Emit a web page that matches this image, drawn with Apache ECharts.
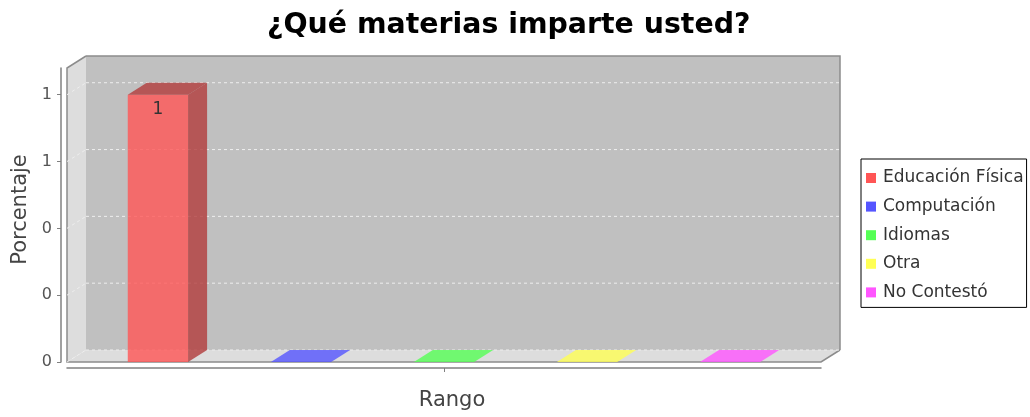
<!DOCTYPE html>
<html>
<head>
<meta charset="utf-8">
<script src="https://cdn.jsdelivr.net/npm/echarts@6/dist/echarts.min.js"></script>
<style>
  html, body { margin: 0; padding: 0; background: #ffffff; }
  #chart { width: 1030px; height: 417px; }
</style>
</head>
<body>
<div id="chart"></div>
<script>
// ---- data ----
const titleText = '¿Qué materias imparte usted?';
const categories = [''];
const subjects = ['Educación Física', 'Computación', 'Idiomas', 'Otra', 'No Contestó'];
const values = [1, 0, 0, 0, 0];
const colors = ['#FF5555', '#5555FF', '#55FF55', '#FFFF55', '#FF55FF'];
const tickValues = [0, 0.25, 0.5, 0.75, 1];
const tickLabels = ['0', '0', '0', '1', '1'];
const yMax = 1.1;
const xName = 'Rango';
const yName = 'Porcentaje';

// ---- style constants ----
const DX = 19, DY = 12;           // 3D depth offset
const ALPHA = 0.8;
const FONT = '"DejaVu Sans", sans-serif';

function rgba(hex, a, f) {
  f = f || 1;
  const n = parseInt(hex.slice(1), 16);
  const r = Math.floor(((n >> 16) & 255) * f);
  const g = Math.floor(((n >> 8) & 255) * f);
  const b = Math.floor((n & 255) * f);
  return 'rgba(' + r + ',' + g + ',' + b + ',' + a + ')';
}

function renderWalls(params, api) {
  const c0 = api.coord([0, 0]);
  const bw = api.size([1, 0])[0];
  const L = c0[0] - bw / 2, R = c0[0] + bw / 2, B = c0[1];
  const T = api.coord([0, yMax])[1];
  const edge = '#8c8c8c';
  const children = [
    { type: 'rect', shape: { x: L + DX, y: T - DY, width: R - L, height: B - T },
      style: { fill: '#C0C0C0', stroke: null } },
    { type: 'polyline', shape: { points: [[L + DX, T - DY], [R + DX, T - DY], [R + DX, B - DY]] },
      style: { fill: null, stroke: edge, lineWidth: 1.5 } },
    { type: 'polygon', shape: { points: [[L, B], [L, T], [L + DX, T - DY], [L + DX, B - DY]] },
      style: { fill: '#DDDDDD', stroke: null } },
    { type: 'polygon', shape: { points: [[L, B], [L + DX, B - DY], [R + DX, B - DY], [R, B]] },
      style: { fill: '#DDDDDD', stroke: null } },
    { type: 'polyline', shape: { points: [[L + DX, T - DY], [L, T], [L, B], [R, B], [R + DX, B - DY]] },
      style: { fill: null, stroke: edge, lineWidth: 1.5 } }
  ];
  tickValues.forEach(function (v) {
    const y = api.coord([0, v])[1];
    children.push({ type: 'line', shape: { x1: L + DX, y1: y - DY, x2: R + DX, y2: y - DY },
      style: { stroke: '#EEEEEE', lineWidth: 1, lineDash: [3, 3] } });
    children.push({ type: 'line', shape: { x1: L, y1: y, x2: L + DX, y2: y - DY },
      style: { stroke: '#EEEEEE', lineWidth: 1, lineDash: [3, 3] } });
  });
  return { type: 'group', children: children };
}

function renderBar(params, api) {
  const k = subjects.indexOf(params.seriesName);
  const v = api.value(1);
  const base = api.coord([0, 0]);
  const top = api.coord([0, v]);
  const bw = api.size([1, 0])[0];
  const w = bw * 0.08;
  const step = bw * 0.1897;
  const x0 = base[0] + (k - 2) * step - w / 2;
  const B = base[1], yt = top[1];
  const col = colors[k];
  const dark = rgba(col, ALPHA, 0.7);
  const children = [];
  if (B - yt > 0) {
    children.push({ type: 'rect', shape: { x: x0, y: yt, width: w, height: B - yt },
      style: { fill: rgba(col, ALPHA) } });
    children.push({ type: 'polygon',
      shape: { points: [[x0 + w, yt], [x0 + w + DX, yt - DY], [x0 + w + DX, B - DY], [x0 + w, B]] },
      style: { fill: dark } });
  }
  children.push({ type: 'polygon',
    shape: { points: [[x0, yt], [x0 + DX, yt - DY], [x0 + w + DX, yt - DY], [x0 + w, yt]] },
    style: { fill: v > 0 ? dark : rgba(col, ALPHA) } });
  if (v > 0) {
    children.push({ type: 'text', style: {
      text: String(v), x: x0 + w / 2, y: yt + 15, align: 'center', verticalAlign: 'middle',
      fill: '#333333', font: '17px ' + FONT } });
  }
  return { type: 'group', children: children };
}

const series = [{
  type: 'custom', name: '__walls', coordinateSystem: 'cartesian2d', silent: true, z: 1,
  renderItem: renderWalls, data: [[0, 0]], encode: { x: 0, y: 1 }
}];
subjects.forEach(function (s, i) {
  series.push({
    type: 'custom', name: s, coordinateSystem: 'cartesian2d', z: 2 + i,
    itemStyle: { color: colors[i] },
    renderItem: renderBar, data: [[0, values[i]]], encode: { x: 0, y: 1 }
  });
});

const chart = echarts.init(document.getElementById('chart'), null, { renderer: 'canvas' });
chart.setOption({
  backgroundColor: '#ffffff',
  animation: false,
  title: {
    text: titleText, left: 267, top: 12, padding: 0,
    textStyle: { fontFamily: FONT, fontSize: 28.4, fontWeight: 'bold', color: '#000000' }
  },
  legend: {
    orient: 'vertical', left: 861, top: 159,
    data: subjects.map(function (s) { return { name: s, icon: 'rect' }; }),
    itemWidth: 10, itemHeight: 10, itemGap: 10.6,
    padding: [10, 3, 6, 5],
    borderColor: '#000000', borderWidth: 1, borderRadius: 0,
    textStyle: { fontFamily: FONT, fontSize: 17, color: '#333333', lineHeight: 18, padding: [0, 0, 0, 2] },
    selectedMode: false
  },
  grid: { left: 67, right: 209, top: 68, bottom: 55 },
  xAxis: {
    type: 'category', data: categories, offset: 6,
    name: xName, nameLocation: 'middle', nameGap: 22,
    nameTextStyle: { fontFamily: FONT, fontSize: 21, color: '#444444', padding: [0, 0, 0, 16] },
    axisLine: { show: true, onZero: false, lineStyle: { color: '#808080', width: 1.5 } },
    axisTick: { show: true, alignWithLabel: true, length: 4, lineStyle: { color: '#808080', width: 1 } },
    axisLabel: { show: false },
    splitLine: { show: false }
  },
  yAxis: {
    type: 'value', min: 0, max: yMax, interval: 0.25, offset: 6,
    name: yName, nameLocation: 'middle', nameGap: 28,
    nameTextStyle: { fontFamily: FONT, fontSize: 21, color: '#444444', padding: [0, 0, 0, 11] },
    axisLine: { show: true, onZero: false, lineStyle: { color: '#808080', width: 1.5 } },
    axisTick: { show: true, length: 4, lineStyle: { color: '#808080' }, customValues: tickValues },
    axisLabel: {
      fontFamily: FONT, fontSize: 16, color: '#555555', margin: 9,
      customValues: tickValues,
      formatter: function (v) { const i = tickValues.indexOf(v); return i < 0 ? '' : tickLabels[i]; }
    },
    splitLine: { show: false }
  },
  series: series
});
</script>
</body>
</html>
